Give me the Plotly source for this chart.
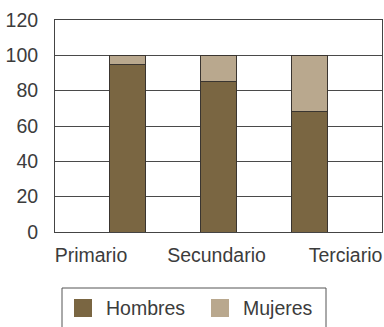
import plotly.graph_objects as go

# Data
niveles = ["Primario", "Secundario", "Terciario"]
hombres = [95, 85, 68]
mujeres = [5, 15, 32]
y_ticks = [0, 20, 40, 60, 80, 100, 120]

# Bar slots on a numeric axis; labels sit at their own positions
bar_pos = [0, 1, 2]
label_pos = [-0.404, 0.978, 2.398]

COL_H = "#7a6642"
COL_M = "#b9a88e"
EDGE = "#3a3530"
TEXT = "#3c3c3c"
FONT = "Liberation Sans, Arial, sans-serif"

W, H = 384, 327
ML, MR, MT, MB = 55, 2, 20, 95
PW, PH = W - ML - MR, H - MT - MB


def px_x(px):
    return (px - ML) / PW


def px_y(py):
    return (H - MB - py) / PH


fig = go.Figure()
fig.add_trace(go.Bar(
    x=bar_pos, y=hombres, name="Hombres", width=0.4,
    marker=dict(color=COL_H, line=dict(color=EDGE, width=1)),
))
fig.add_trace(go.Bar(
    x=bar_pos, y=mujeres, name="Mujeres", width=0.4,
    marker=dict(color=COL_M, line=dict(color=EDGE, width=1)),
))

# Legend box drawn by hand (square swatches, framed)
shapes = [
    dict(type="rect", xref="paper", yref="paper",
         x0=px_x(62), x1=px_x(326), y0=px_y(330), y1=px_y(288),
         line=dict(color="#555555", width=1), fillcolor="white", layer="above"),
    dict(type="rect", xref="paper", yref="paper",
         x0=px_x(74), x1=px_x(92), y0=px_y(317), y1=px_y(299),
         line=dict(width=0), fillcolor=COL_H, layer="above"),
    dict(type="rect", xref="paper", yref="paper",
         x0=px_x(211), x1=px_x(229), y0=px_y(317), y1=px_y(299),
         line=dict(width=0), fillcolor=COL_M, layer="above"),
]
annotations = [
    dict(text="Hombres", xref="paper", yref="paper", x=px_x(104), y=px_y(308),
         xanchor="left", yanchor="middle", showarrow=False,
         font=dict(family=FONT, size=19.5, color=TEXT)),
    dict(text="Mujeres", xref="paper", yref="paper", x=px_x(241), y=px_y(308),
         xanchor="left", yanchor="middle", showarrow=False,
         font=dict(family=FONT, size=19.5, color=TEXT)),
]

fig.update_layout(
    barmode="stack",
    width=W, height=H,
    margin=dict(l=ML, r=MR, t=MT, b=MB, pad=0),
    paper_bgcolor="white", plot_bgcolor="white",
    showlegend=False,
    font=dict(family=FONT, size=19.5, color=TEXT),
    shapes=shapes,
    annotations=annotations,
)
fig.update_xaxes(
    range=[-0.8, 2.8], tickmode="array", tickvals=label_pos, ticktext=niveles,
    showgrid=False, zeroline=False, showline=True, linecolor="#444444",
    linewidth=1, mirror=True, ticks="", ticklabelstandoff=6,
    automargin=False, fixedrange=True,
)
fig.update_yaxes(
    range=[0, 120], tickmode="array", tickvals=y_ticks,
    showgrid=True, gridcolor="#4a4a4a", gridwidth=1,
    zeroline=False, showline=True, linecolor="#444444", linewidth=1,
    mirror=True, ticks="", ticklabelstandoff=12, automargin=False,
    fixedrange=True,
)

fig.write_html("out.html", config={"displayModeBar": False})
